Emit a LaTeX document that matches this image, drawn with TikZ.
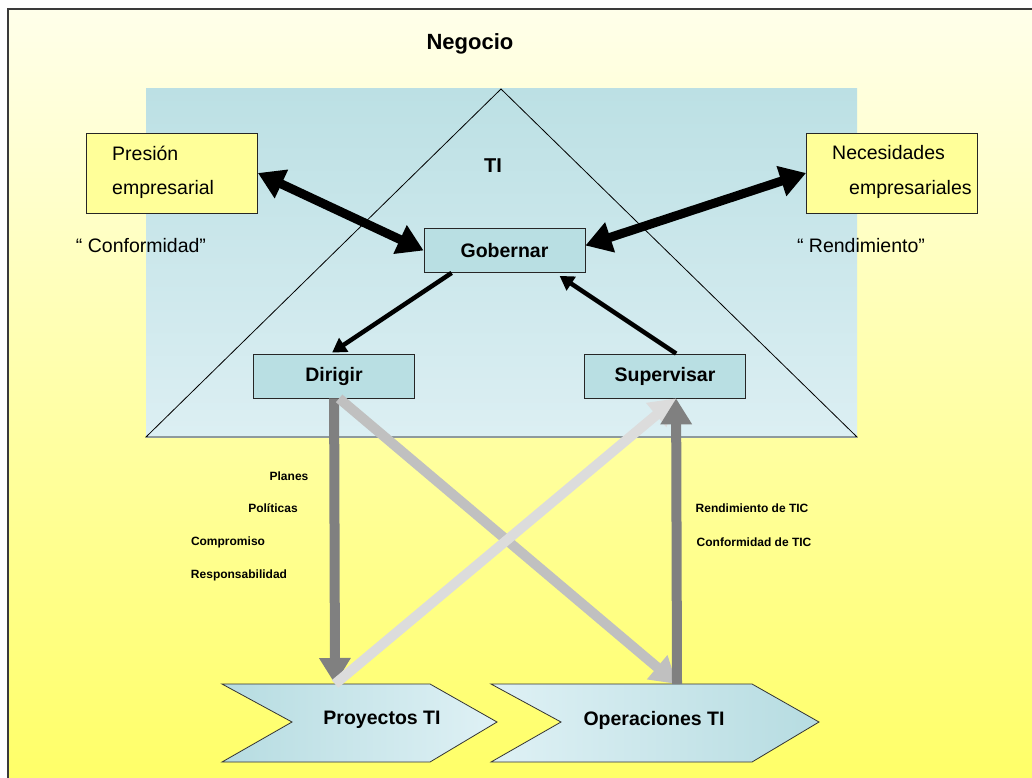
\documentclass[tikz,border=0pt]{standalone}
\usepackage{fontspec}
\setmainfont{Liberation Sans}
\usetikzlibrary{arrows.meta,calc}
\definecolor{creamtop}{HTML}{FFFFEA}
\definecolor{yelbot}{HTML}{FFFF66}
\definecolor{tealtop}{HTML}{BCE0E4}
\definecolor{tealbot}{HTML}{DCEFF3}
\definecolor{boxblue}{HTML}{B9DFE3}
\definecolor{boxyel}{HTML}{FFFF99}
\definecolor{chevA}{HTML}{B6DCE1}
\definecolor{chevB}{HTML}{DFF1F5}
\definecolor{gryA}{HTML}{808080}
\definecolor{gryB}{HTML}{C0C0C0}
\definecolor{gryC}{HTML}{DCDCDC}
\definecolor{framecol}{HTML}{3A3A3A}
\tikzset{
  bluebox/.style={draw=black!85, line width=0.8pt, fill=boxblue, minimum width=161pt, minimum height=44pt, inner sep=0pt, font=\fontsize{19.5}{22}\selectfont\bfseries},
  yelbox/.style={draw=black!85, line width=0.8pt, fill=boxyel, minimum width=171pt, minimum height=80pt, inner sep=0pt},
  bigtxt/.style={inner sep=0pt, font=\fontsize{19.5}{22}\selectfont},
  boldtxt/.style={inner sep=0pt, font=\fontsize{20}{24}\selectfont\bfseries},
  smalltxt/.style={inner sep=0pt, font=\fontsize{12}{14}\selectfont\bfseries},
  dblarrow/.style={line width=9pt, black, {Triangle[length=26pt,width=30pt]}-{Triangle[length=26pt,width=30pt]}},
  thinarrow/.style={line width=4.5pt, black, -{Triangle[length=14pt,width=16pt]}},
  grayarrow/.style={line width=10pt, -{Triangle[length=26pt,width=30pt]}},
  chev/.style={draw=black!80, line width=0.8pt}
}
\begin{document}
\begin{tikzpicture}[x=1pt,y=-1pt]
\useasboundingbox (0,0) rectangle (1032,778);
\clip (0,0) rectangle (1032,778);
\fill[white] (0,0) rectangle (1032,778);
% background
\shade[top color=creamtop, bottom color=yelbot] (8,9) rectangle (1040,790);
\draw[framecol, line width=2pt] (8,790) -- (8,9) -- (1040,9);
% TI area
\shade[top color=tealtop, bottom color=tealbot] (146,89) rectangle (857,437);
\draw[black, line width=0.8pt] (501,89) -- (146,437) -- (857,437) -- cycle;
% titles
\node[boldtxt, font=\fontsize{22}{26}\selectfont\bfseries] (neg) at (470,44) {Negocio};
\node[boldtxt] (ti) at (493,166) {TI};
% yellow boxes
\node[yelbox] (pres) at (172,173) {};
\node[yelbox] (nec) at (892,173) {};
\node[bigtxt, anchor=west] (presA) at (112,153) {Presión};
\node[bigtxt, anchor=west] (presB) at (112,189) {empresarial};
\node[bigtxt, anchor=west] (necA) at (832,153) {Necesidades};
\node[bigtxt, anchor=west] (necB) at (849,189) {empresariales};
\node[bigtxt] (conf) at (141,246) {“ Conformidad”};
\node[bigtxt] (rend) at (861,246) {“ Rendimiento”};
% blue boxes
\node[bluebox] (gob) at (504.5,250.5) {Gobernar};
\node[bluebox] (dir) at (334,376) {Dirigir};
\node[bluebox] (sup) at (665,376) {Supervisar};
% chevrons
\shade[left color=chevA, right color=chevB] (222,684) -- (430,684) -- (497,722) -- (430,762) -- (222,762) -- (292,722) -- cycle;
\draw[chev] (222,684) -- (430,684) -- (497,722) -- (430,762) -- (222,762) -- (292,722) -- cycle;
\shade[left color=chevB, right color=chevA] (491,684) -- (752,684) -- (819,722) -- (752,762) -- (491,762) -- (561,722) -- cycle;
\draw[chev] (491,684) -- (752,684) -- (819,722) -- (752,762) -- (491,762) -- (561,722) -- cycle;
\node[bigtxt, font=\fontsize{19.5}{22}\selectfont\bfseries] (proy) at (382,720) {Proyectos TI};
\node[bigtxt, font=\fontsize{19.5}{22}\selectfont\bfseries] (oper) at (654,720) {Operaciones TI};
\coordinate (proyTop) at (335,684);
\coordinate (operTop) at (677,684);
% black arrows
\draw[dblarrow] (pres.east) -- (gob.west);
\draw[dblarrow] (nec.west) -- ($(gob.east)+(0,-5)$);
\draw[thinarrow] ($(gob.south west)+(28,0)$) -- ($(dir.north west)+(79,-1)$);
\draw[thinarrow] ($(sup.north west)+(92,0)$) -- ($(gob.south west)+(136,3)$);
% gray arrows
\draw[grayarrow, gryA] ($(dir.south west)+(81,0)$) -- (proyTop);
\draw[grayarrow, gryB] ($(dir.south west)+(86,0)$) -- (operTop);
\draw[grayarrow, gryC] (proyTop) -- ($(sup.south west)+(92,0)$);
\draw[grayarrow, gryA] (operTop) -- ($(sup.south west)+(92,0)$);
% small labels
\node[smalltxt] (l1) at (289,476) {Planes};
\node[smalltxt] (l2) at (273,508) {Políticas};
\node[smalltxt] (l3) at (228,542) {Compromiso};
\node[smalltxt] (l4) at (239,575) {Responsabilidad};
\node[smalltxt] (r1) at (752,508) {Rendimiento de TIC};
\node[smalltxt] (r2) at (754,542) {Conformidad de TIC};
\end{tikzpicture}
\end{document}
